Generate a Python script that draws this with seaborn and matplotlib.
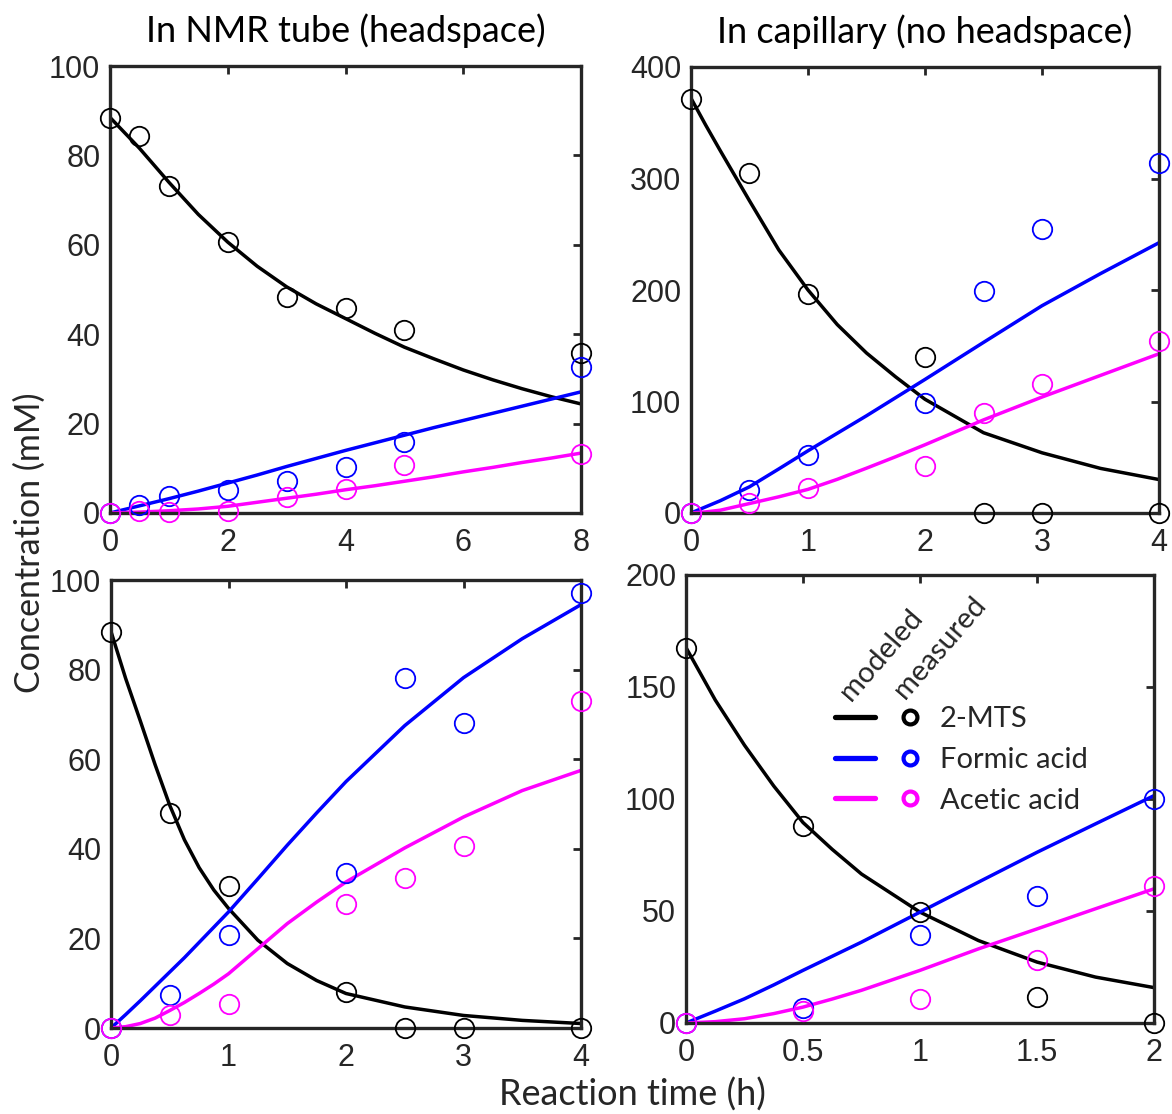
import numpy as np
import pandas as pd
import matplotlib
matplotlib.use("Agg")
import matplotlib.pyplot as plt
from matplotlib.lines import Line2D
import seaborn as sns

sns.set_theme(style="white")
plt.rcParams['font.family'] = ['Liberation Sans', 'DejaVu Sans']

# ---------------- data ----------------
# Panel A: NMR tube (headspace)
a_t_meas = [0, 0.5, 1, 2, 3, 4, 5, 8]
a_mts_meas = [88.3, 84.3, 73.2, 60.6, 48.3, 45.9, 40.9, 35.9]
a_formic_meas = [0, 1.9, 3.7, 5.1, 7.1, 10.2, 15.8, 32.7]
a_acetic_meas = [0, 0.4, 0.2, 0.4, 3.5, 5.4, 10.8, 13.2]
a_t_mod = [0, 0.5, 1, 1.5, 2, 2.5, 3, 3.5, 4, 4.5, 5, 5.5, 6, 6.5, 7, 7.5, 8]
a_mts_mod = [88.5, 81.6, 74.0, 66.8, 60.6, 55.2, 50.6, 46.8, 43.5, 40.2, 37.1,
             34.5, 32.0, 29.8, 27.8, 26.0, 24.4]
a_formic_mod = [0, 1.6, 3.2, 4.9, 6.7, 8.5, 10.4, 12.2, 14.0, 15.7, 17.4, 19.1,
                20.7, 22.3, 23.9, 25.5, 27.1]
a_acetic_mod = [0, 0.2, 0.5, 0.9, 1.5, 2.4, 3.3, 4.2, 5.2, 6.1, 7.1, 8.1, 9.2,
                10.2, 11.3, 12.3, 13.4]

# Panel B: capillary (no headspace)
b_t_meas = [0, 0.5, 1, 2, 2.5, 3, 4]
b_mts_meas = [371, 305, 196, 140, 0, 0, 0]
b_formic_meas = [0, 21, 52, 99, 199, 255, 314]
b_acetic_meas = [0, 9, 22, 42, 90, 116, 154]
b_t_mod = [0, 0.125, 0.25, 0.5, 0.75, 1, 1.25, 1.5, 1.75, 2, 2.5, 3, 3.5, 4]
b_mts_mod = [372, 348, 325, 280, 236, 200, 169, 143.5, 122, 102, 72, 54, 40, 30]
b_formic_mod = [0, 5.5, 11, 23.5, 39.5, 55.8, 71.5, 87.2, 103.5, 119.8, 153,
                185.9, 214.7, 242.4]
b_acetic_mod = [0, 1, 2.5, 8.5, 14.5, 21.2, 30.2, 40.2, 50.5, 61.2, 83.5, 104,
                123.4, 142.8]

# Panel C: NMR tube (headspace), second run
c_t_meas = [0, 0.5, 1, 2, 2.5, 3, 4]
c_mts_meas = [88.4, 48.0, 31.7, 8.1, 0, 0, 0]
c_formic_meas = [0, 7.3, 20.7, 34.7, 78.2, 68.1, 97.2]
c_acetic_meas = [0, 3.0, 5.4, 27.6, 33.5, 40.6, 72.9]
c_t_mod = [0, 0.125, 0.25, 0.375, 0.5, 0.625, 0.75, 0.875, 1, 1.25, 1.5, 1.75,
           2, 2.5, 3, 3.5, 4]
c_mts_mod = [88.5, 78.0, 68.5, 58.8, 49.7, 42.0, 35.8, 30.8, 26.7, 19.6, 14.4,
             10.6, 7.7, 4.7, 2.8, 1.7, 1.0]
c_formic_mod = [0, 3.0, 6.1, 9.3, 12.5, 15.7, 19.1, 22.5, 25.9, 33.3, 40.8,
                48.0, 55.0, 67.5, 78.2, 86.9, 94.5]
c_acetic_mod = [0, 0.3, 1.0, 2.2, 3.9, 5.7, 7.7, 9.8, 12.1, 17.7, 23.3, 28.1,
                32.6, 40.2, 47.1, 53.0, 57.5]

# Panel D: capillary (no headspace), second run
d_t_meas = [0, 0.5, 1, 1.5, 2]
d_mts_meas = [167.3, 88.1, 49.7, 11.8, 0]
d_formic_meas = [0, 6.8, 39.5, 56.6, 100.1]
d_acetic_meas = [0, 5.2, 10.7, 28.3, 61.1]
d_t_mod = [0, 0.125, 0.25, 0.375, 0.5, 0.625, 0.75, 1, 1.25, 1.5, 1.75, 2]
d_mts_mod = [167.6, 144.2, 124.0, 105.8, 89.5, 77.5, 66.5, 49.5, 36.8, 27.2,
             20.5, 15.8]
d_formic_mod = [0, 5.3, 10.8, 17.0, 23.5, 29.8, 36.1, 49.5, 62.9, 76.2, 88.9,
                101.5]
d_acetic_mod = [0, 0.6, 1.9, 4.2, 7.1, 10.7, 14.6, 23.5, 33.1, 42.0, 51.0, 59.9]

species = ["2-MTS", "Formic acid", "Acetic acid"]
colors = {"2-MTS": "#000000", "Formic acid": "#0000FF", "Acetic acid": "#FF00FF"}

panels = [
    dict(tm=a_t_meas, meas=[a_mts_meas, a_formic_meas, a_acetic_meas],
         tc=a_t_mod, mod=[a_mts_mod, a_formic_mod, a_acetic_mod],
         xlim=(0, 8), xticks=[0, 2, 4, 6, 8], xtl=["0", "2", "4", "6", "8"],
         ylim=(0, 100), yticks=[0, 20, 40, 60, 80, 100]),
    dict(tm=b_t_meas, meas=[b_mts_meas, b_formic_meas, b_acetic_meas],
         tc=b_t_mod, mod=[b_mts_mod, b_formic_mod, b_acetic_mod],
         xlim=(0, 4), xticks=[0, 1, 2, 3, 4], xtl=["0", "1", "2", "3", "4"],
         ylim=(0, 400), yticks=[0, 100, 200, 300, 400]),
    dict(tm=c_t_meas, meas=[c_mts_meas, c_formic_meas, c_acetic_meas],
         tc=c_t_mod, mod=[c_mts_mod, c_formic_mod, c_acetic_mod],
         xlim=(0, 4), xticks=[0, 1, 2, 3, 4], xtl=["0", "1", "2", "3", "4"],
         ylim=(0, 100), yticks=[0, 20, 40, 60, 80, 100]),
    dict(tm=d_t_meas, meas=[d_mts_meas, d_formic_meas, d_acetic_meas],
         tc=d_t_mod, mod=[d_mts_mod, d_formic_mod, d_acetic_mod],
         xlim=(0, 2), xticks=[0, 0.5, 1, 1.5, 2], xtl=["0", "0.5", "1", "1.5", "2"],
         ylim=(0, 200), yticks=[0, 50, 100, 150, 200]),
]

titles = ["In NMR tube (headspace)", "In capillary (no headspace)"]
humanist = ["Lato", "DejaVu Sans"]

fig = plt.figure(figsize=(11.72, 11.14), dpi=100)
W, H = 1172, 1114
boxes = [(110, 581, 66, 513), (691, 1159, 67, 513),
         (111, 581, 580, 1028), (686, 1154, 575, 1023)]
axes = []
for (l, r, t, b) in boxes:
    axes.append(fig.add_axes([l / W, 1 - b / H, (r - l) / W, (b - t) / H]))

spine_c = "#262626"
for i, (ax, p) in enumerate(zip(axes, panels)):
    for s, ym, yc in zip(species, p["meas"], p["mod"]):
        c = colors[s]
        sns.lineplot(x=p["tc"], y=yc, ax=ax, color=c, lw=2.5, estimator=None,
                     sort=False, zorder=2)
        sns.lineplot(x=p["tm"], y=ym, ax=ax, color=c, linestyle="", marker="o",
                     markersize=14, markerfacecolor="none", markeredgecolor=c,
                     markeredgewidth=1.3, estimator=None, sort=False,
                     clip_on=False, zorder=3)
    ax.set_xlim(*p["xlim"])
    ax.set_ylim(*p["ylim"])
    ax.set_xticks(p["xticks"])
    ax.set_xticklabels(p["xtl"])
    ax.set_yticks(p["yticks"])
    ax.tick_params(direction="in", length=6, width=2, colors=spine_c,
                   top=True, right=True, labelsize=22, labelcolor=spine_c)
    ax.tick_params(axis="x", pad=11)
    ax.tick_params(axis="y", pad=7)
    for sp in ax.spines.values():
        sp.set_visible(True)
        sp.set_color(spine_c)
        sp.set_linewidth(2.4)
    ax.set_xlabel("")
    ax.set_ylabel("")
    if i < 2:
        ax.set_title(titles[i], fontsize=26, family=humanist, pad=17,
                     color="black")

# legend in panel D
ax = axes[3]
handles = [Line2D([], [], color=colors[s], lw=3.8) for s in species] + \
          [Line2D([], [], color=colors[s], linestyle="", marker="o", markersize=10,
                  markerfacecolor="none", markeredgewidth=3) for s in species]
labels = ["", "", ""] + species
ax.legend(handles, labels, ncol=2, loc="center left",
          bbox_to_anchor=(0.318, 0.587), frameon=False,
          prop={"family": humanist, "size": 21},
          handlelength=1.37, handletextpad=0.34, columnspacing=0.17,
          labelspacing=0.5, borderpad=0, borderaxespad=0)
ax.text(0.352, 0.717, "modeled", transform=ax.transAxes, rotation=49,
        rotation_mode="anchor", ha="left", va="baseline", fontsize=21,
        family=humanist)
ax.text(0.468, 0.721, "measured", transform=ax.transAxes, rotation=49,
        rotation_mode="anchor", ha="left", va="baseline", fontsize=21,
        family=humanist)

fig.text(30 / W, 1 - 543 / H, "Concentration (mM)", rotation=90, ha="center",
         va="center", fontsize=24.5, family=humanist)
fig.text(632 / W, 1 - 1095 / H, "Reaction time (h)", ha="center", va="center",
         fontsize=26, family=humanist)

fig.savefig("out.png", dpi=100)
